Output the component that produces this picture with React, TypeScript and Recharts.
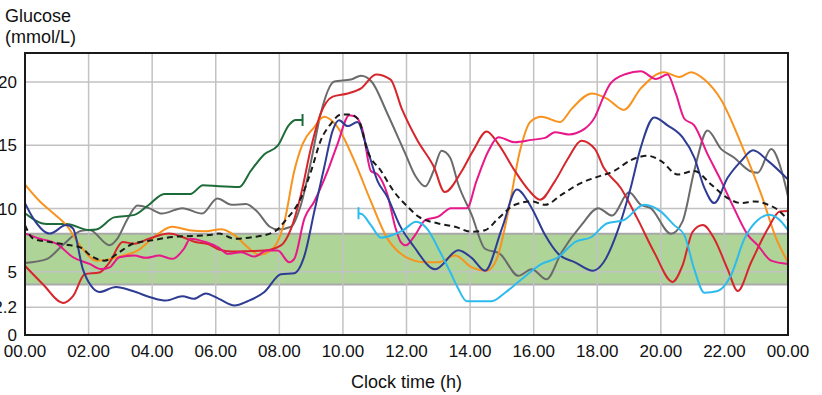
import React from "react";
import {
  LineChart,
  Line,
  XAxis,
  YAxis,
  CartesianGrid,
  ReferenceArea,
  Label,
} from "recharts";

// [clock hour, glucose mmol/L]
const greenPts: [number, number][] = [
  [0, 9.63], [0.68, 8.77], [1.3, 8.77], [2.03, 8.3], [2.24, 8.34], [2.8, 9.3], [3.44, 9.5],
  [3.9, 10.3], [4.38, 11.15], [5.2, 11.15], [5.6, 11.85], [6.1, 11.76], [6.74, 11.7],
  [7.1, 12.97], [7.53, 14.3], [7.95, 14.97], [8.3, 16.6], [8.52, 17.0], [8.73, 17.0],
];

const greyPts: [number, number][] = [
  [0, 5.7], [0.68, 6.0], [1.2, 7.14], [1.77, 8.24], [2.03, 8.3], [2.66, 7.1], [2.9, 7.6],
  [3.23, 9.2], [3.54, 10.24], [3.9, 10.03], [4.3, 9.6], [4.95, 10.03], [5.57, 9.6],
  [6.05, 10.8], [6.5, 10.3], [6.95, 10.35], [7.3, 9.76], [7.7, 8.56], [7.95, 8.34],
  [8.37, 8.56], [8.68, 10.3], [9.0, 13.77], [9.3, 17.5], [9.73, 20.05], [10.25, 20.2],
  [10.57, 20.5], [10.9, 20.05], [11.4, 17.5], [11.97, 14.3], [12.28, 12.57], [12.59, 11.76],
  [12.85, 12.97], [13.1, 14.57], [13.37, 14.04], [13.63, 11.9], [14.05, 9.5], [14.47, 6.82],
  [14.94, 6.42], [15.52, 4.68], [15.94, 5.2], [16.4, 4.4], [16.88, 6.55], [17.5, 8.69],
  [18.03, 10.03], [18.47, 9.44], [19.0, 11.28], [19.37, 10.3], [19.68, 10.03], [20.32, 8.0],
  [20.68, 8.96], [21.05, 12.97], [21.47, 16.18], [21.9, 14.7], [22.3, 14.04], [22.8, 12.97],
  [23.05, 12.83], [23.47, 14.7], [23.8, 12.97], [24, 10.96],
];

const orangePts: [number, number][] = [
  [0, 11.9], [0.47, 10.56], [0.89, 9.63], [1.3, 8.69], [1.77, 6.95], [2.24, 5.88], [2.6, 5.96],
  [3.07, 6.28], [3.54, 6.68], [4.0, 7.62], [4.63, 8.56], [5.16, 8.29], [5.68, 8.21],
  [6.17, 8.37], [6.59, 7.9], [7.0, 6.95], [7.37, 6.34], [7.79, 6.82], [8.16, 8.96],
  [8.47, 12.97], [8.73, 15.1], [9.1, 16.44], [9.41, 17.25], [9.83, 16.44], [10.36, 13.77],
  [10.88, 10.56], [11.4, 7.62], [11.82, 6.42], [12.24, 5.88], [12.59, 5.75], [13.0, 5.75],
  [13.53, 6.28], [14.05, 5.35], [14.52, 5.08], [14.84, 6.02], [15.2, 9.76], [15.57, 14.57],
  [15.89, 16.84], [16.25, 17.25], [16.83, 16.84], [17.2, 17.9], [17.83, 19.1], [18.3, 18.7],
  [18.84, 17.8], [19.37, 19.5], [20.1, 20.78], [20.58, 20.4], [20.95, 20.78], [21.37, 20.2],
  [21.9, 18.58], [22.53, 15.1], [23.16, 11.1], [23.63, 7.62], [24, 5.75],
];

const redPts: [number, number][] = [
  [0, 5.48], [0.57, 4.0], [1.2, 2.54], [1.51, 3.07], [1.88, 4.81], [2.34, 4.95], [2.66, 5.75],
  [3.07, 7.35], [3.44, 7.22], [3.9, 7.62], [4.53, 8.02], [4.95, 7.75], [5.36, 7.35],
  [5.78, 7.17], [6.1, 6.76], [6.5, 6.6], [7.0, 6.63], [7.53, 6.68], [8.05, 7.09], [8.37, 8.42],
  [8.68, 11.1], [9.0, 14.84], [9.3, 17.5], [9.68, 18.85], [10.15, 19.1], [10.57, 19.5],
  [11.04, 20.6], [11.5, 20.2], [11.85, 17.9], [12.34, 15.4], [12.86, 13.3], [13.2, 11.3],
  [13.74, 12.97], [14.1, 14.6], [14.52, 16.1], [14.89, 15.1], [15.41, 12.97], [15.83, 11.5],
  [16.2, 10.7], [16.67, 12.17], [17.1, 14.04], [17.5, 15.37], [17.93, 14.7], [18.2, 13.24],
  [18.74, 11.63], [19.26, 9.22], [19.79, 6.55], [20.37, 4.2], [20.68, 5.48], [21.0, 8.16],
  [21.32, 8.69], [21.68, 7.62], [22.1, 5.21], [22.42, 3.48], [22.84, 5.75], [23.37, 8.42],
  [23.74, 9.76], [24, 9.81],
];

const magentaPts: [number, number][] = [
  [0, 8.02], [0.47, 7.62], [0.99, 7.22], [1.51, 6.15], [2.03, 5.62], [2.4, 5.21], [2.66, 5.35],
  [2.97, 6.15], [3.44, 6.28], [3.8, 6.1], [4.22, 6.28], [4.63, 6.02], [5.0, 6.82], [5.2, 7.62],
  [5.68, 7.35], [6.1, 6.9], [6.38, 6.42], [6.8, 6.55], [7.2, 6.2], [7.63, 6.68], [7.95, 6.68],
  [8.31, 5.75], [8.47, 6.02], [8.79, 9.22], [9.1, 10.56], [9.52, 12.97], [9.83, 15.1],
  [10.2, 17.38], [10.41, 17.25], [10.62, 16.18], [10.88, 12.97], [11.09, 12.7], [11.4, 11.1],
  [11.66, 8.42], [11.82, 7.35], [11.98, 7.09], [12.27, 7.9], [12.59, 9.09], [13.0, 9.36],
  [13.4, 10.03], [13.9, 10.03], [14.2, 12.17], [14.58, 14.57], [14.89, 15.64], [15.41, 15.24],
  [15.94, 15.43], [16.36, 15.59], [16.67, 16.04], [17.1, 15.86], [17.6, 16.3], [17.93, 17.25],
  [18.2, 18.85], [18.42, 19.9], [18.9, 20.64], [19.37, 20.86], [19.84, 20.24], [20.21, 20.6],
  [20.47, 19.1], [20.74, 17.1], [21.05, 16.58], [21.47, 14.3], [21.9, 12.17], [22.3, 10.03],
  [22.74, 7.9], [23.05, 7.09], [23.47, 5.88], [24, 5.62],
];

const navyPts: [number, number][] = [
  [0, 10.43], [0.26, 9.22], [0.78, 8.02], [1.3, 8.69], [1.51, 8.42], [1.82, 5.21], [2.08, 3.88],
  [2.34, 3.4], [2.86, 3.8], [3.39, 3.48], [4.0, 2.94], [4.43, 2.73], [4.95, 3.07], [5.31, 2.86],
  [5.68, 3.29], [6.1, 2.86], [6.59, 2.33], [7.0, 2.67], [7.53, 3.4], [8.05, 4.81], [8.47, 4.89],
  [8.79, 6.28], [9.1, 9.76], [9.41, 13.24], [9.68, 16.18], [9.88, 16.98], [10.15, 16.52],
  [10.46, 16.84], [10.72, 15.1], [11.09, 12.17], [11.39, 10.95], [11.81, 8.57], [12.23, 7.0],
  [12.9, 5.2], [13.63, 6.7], [14.05, 6.1], [14.47, 5.08], [15.0, 8.42], [15.47, 11.5],
  [15.94, 10.03], [16.36, 7.9], [16.77, 6.42], [17.3, 5.75], [17.87, 5.08], [18.2, 5.75],
  [18.63, 8.16], [19.05, 11.63], [19.37, 14.84], [19.79, 17.2], [20.21, 16.58], [20.68, 15.64],
  [21.05, 14.04], [21.37, 11.63], [21.68, 10.43], [22.1, 12.43], [22.53, 13.77], [22.9, 14.6],
  [23.37, 13.77], [24, 12.3],
];

const cyanPts: [number, number][] = [
  [10.49, 9.63], [10.6, 9.55], [10.88, 8.69], [11.2, 7.7], [11.6, 7.95], [11.9, 8.3],
  [12.3, 8.95], [12.65, 8.4], [13.05, 6.6], [13.39, 4.9], [13.6, 3.8], [13.9, 2.67],
  [14.68, 2.67], [15.1, 3.34], [15.62, 4.41], [16.25, 5.62], [16.77, 6.15], [17.3, 7.35],
  [17.82, 7.75], [18.3, 8.82], [18.84, 9.09], [19.47, 10.3], [20.0, 9.76], [20.42, 8.69],
  [20.74, 7.9], [21.05, 5.21], [21.37, 3.34], [21.79, 3.48], [22.2, 4.68], [22.63, 7.62],
  [23.05, 9.09], [23.42, 9.5], [23.79, 8.96], [24, 8.29],
];

const meanPts: [number, number][] = [
  [0, 8.69], [0.26, 7.62], [0.78, 7.35], [1.3, 7.14], [1.72, 6.95], [2.14, 6.15], [2.5, 5.88],
  [2.97, 6.55], [3.39, 7.22], [4.0, 7.49], [4.63, 7.75], [5.26, 7.83], [5.78, 7.9], [6.1, 8.02],
  [6.59, 7.62], [7.2, 7.75], [7.84, 8.16], [8.2, 9.09], [8.68, 10.83], [9.0, 12.97],
  [9.3, 15.37], [9.62, 16.7], [9.94, 17.43], [10.25, 17.43], [10.5, 16.98], [10.77, 14.57],
  [11.2, 12.97], [11.6, 11.36], [12.03, 10.16], [12.38, 9.36], [13.0, 8.82], [13.53, 8.56],
  [14.05, 8.16], [14.47, 8.29], [14.89, 9.22], [15.41, 10.3], [15.94, 10.56], [16.36, 10.3],
  [16.88, 11.1], [17.5, 12.03], [18.0, 12.5], [18.53, 12.97], [19.05, 13.82], [19.58, 14.17],
  [20.0, 13.77], [20.53, 12.7], [21.05, 12.97], [21.58, 11.9], [22.1, 10.83], [22.53, 10.43],
  [22.95, 10.56], [23.37, 10.3], [23.68, 9.9], [24, 9.09],
];

const xTicks = [0, 2, 4, 6, 8, 10, 12, 14, 16, 18, 20, 22, 24];
const xTickLabels = ["00.00", "02.00", "04.00", "06.00", "08.00", "10.00", "12.00", "14.00", "16.00", "18.00", "20.00", "22.00", "00.00"];
const yTicks = [0, 2.2, 5, 10, 15, 20];
const targetTicks = [4, 8];
const targetTickLabels = ["4.0", "8.0"];

const toRows = (pts: [number, number][]) => pts.map(([h, v]) => ({ h, v }));

const FONT = "'Liberation Sans', Arial, sans-serif";
const Y_MAX = 22.3;

// vertical bar at one end of a trace (start or finish of a sensor record)
const endBar = (which: "first" | "last", len: number, color: string) => (props: any) => {
  const { cx, cy, index } = props;
  const hit = which === "first" ? index === 0 : index === len - 1;
  if (!hit) return <g key={`d-${index}`} />;
  return <line key={`d-${index}`} x1={cx} x2={cx} y1={cy - 6} y2={cy + 6} stroke={color} strokeWidth={2} />;
};

export default function App() {
  const series = [
    { name: "grey", pts: greyPts, color: "#6b6b6b" },
    { name: "green", pts: greenPts, color: "#1d6b38", end: "last" as const },
    { name: "orange", pts: orangePts, color: "#f7931e" },
    { name: "red", pts: redPts, color: "#d6262c" },
    { name: "magenta", pts: magentaPts, color: "#e8178a" },
    { name: "navy", pts: navyPts, color: "#2f3c93" },
    { name: "cyan", pts: cyanPts, color: "#2dbbed", end: "first" as const },
  ];

  return (
    <div style={{ position: "absolute", left: 0, top: 0, width: 822, height: 395, fontFamily: FONT, background: "#fff" }}>
      <div style={{ position: "absolute", left: 5, top: 6, fontSize: 18, lineHeight: "21px", color: "#111" }}>
        Glucose
        <br />
        (mmol/L)
      </div>
      <LineChart width={822} height={395} margin={{ top: 53, right: 0, bottom: 0, left: 0 }} style={{ fontFamily: FONT }}>
        <ReferenceArea x1={0} x2={24} y1={4} y2={8} fill="#aed597" fillOpacity={1} stroke="#a9a9a9" strokeWidth={2} zIndex={-200} />
        <CartesianGrid stroke="#c2c2c2" strokeWidth={1.5} />
        <XAxis
          type="number"
          dataKey="h"
          domain={[0, 24]}
          ticks={xTicks}
          tickFormatter={(h: number) => xTickLabels[xTicks.indexOf(h)]}
          tick={{ fontSize: 17, fill: "#111" }}
          tickLine={false}
          axisLine={false}
          tickSize={6}
          tickMargin={4}
          height={60}
          interval={0}
        >
          <Label value="Clock time (h)" position="insideBottom" offset={7} style={{ fontSize: 18, fill: "#111" }} />
        </XAxis>
        <YAxis
          type="number"
          domain={[0, Y_MAX]}
          ticks={yTicks}
          tick={{ fontSize: 17, fill: "#111" }}
          tickLine={false}
          axisLine={false}
          width={25}
          interval={0}
        />
        <YAxis
          yAxisId="target"
          orientation="right"
          type="number"
          domain={[0, Y_MAX]}
          ticks={targetTicks}
          tickFormatter={(v: number) => targetTickLabels[targetTicks.indexOf(v)]}
          tick={{ fontSize: 17, fill: "#111" }}
          tickLine={false}
          axisLine={false}
          width={34}
          interval={0}
        />
        {series.map((s) => (
          <Line
            key={s.name}
            data={toRows(s.pts)}
            type="monotone"
            dataKey="v"
            stroke={s.color}
            strokeWidth={2}
            dot={s.end ? endBar(s.end, s.pts.length, s.color) : false}
            activeDot={false}
            isAnimationActive={false}
          />
        ))}
        <Line
          data={toRows(meanPts)}
          type="monotone"
          dataKey="v"
          stroke="#1a1a1a"
          strokeWidth={2}
          strokeDasharray="6 4"
          dot={false}
          activeDot={false}
          isAnimationActive={false}
        />
        <ReferenceArea x1={0} x2={24} y1={0} y2={Y_MAX} fill="none" stroke="#1a1a1a" strokeWidth={2} zIndex={1500} />
      </LineChart>
    </div>
  );
}
